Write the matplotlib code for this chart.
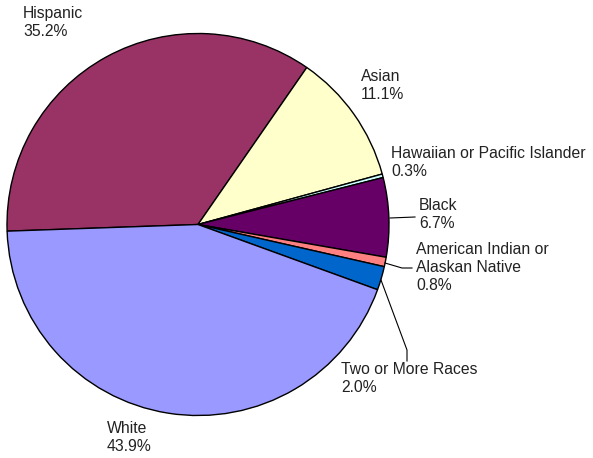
import matplotlib.pyplot as plt

# --- data ---
labels = ["Hispanic", "Asian", "Hawaiian or Pacific Islander", "Black",
          "American Indian or\nAlaskan Native", "Two or More Races", "White"]
shares = [35.2, 11.1, 0.3, 6.7, 0.8, 2.0, 43.9]
colors = ["#993366", "#FFFFCC", "#CCFFFF", "#660066", "#FF8080", "#0066CC", "#9999FF"]

# label anchor (top-left, pixel coords)
label_pos = [(23, 6), (361, 69), (391, 146), (419, 198), (416, 242), (341, 362), (107, 421)]

plt.rcParams['font.family'] = ['Liberation Sans', 'DejaVu Sans']

fig = plt.figure(figsize=(5.93, 4.58), dpi=100)
ax = fig.add_axes([0, 0, 1, 1])

# pie in pixel space; y axis is inverted so flip direction accordingly
ax.pie(shares, colors=colors, center=(198, 224.5), radius=191,
       startangle=178, counterclock=True,
       wedgeprops=dict(edgecolor='black', linewidth=1.0), frame=True)
ax.set_xlim(0, 593)
ax.set_ylim(458, 0)
ax.set_aspect('equal')
ax.axis('off')

for lab, val, (x, y) in zip(labels, shares, label_pos):
    ax.text(x, y, f"{lab}\n{val:.1f}%", ha='left', va='top', fontsize=11.3,
            color='#222222', linespacing=1.25)

# leader lines
ax.plot([390, 415], [218, 217], color='black', lw=0.8)
ax.plot([385, 402, 412], [263, 268, 268], color='black', lw=0.8)
ax.plot([381, 407, 407], [280, 350, 361], color='black', lw=0.8)

fig.savefig("out.png", dpi=100)
